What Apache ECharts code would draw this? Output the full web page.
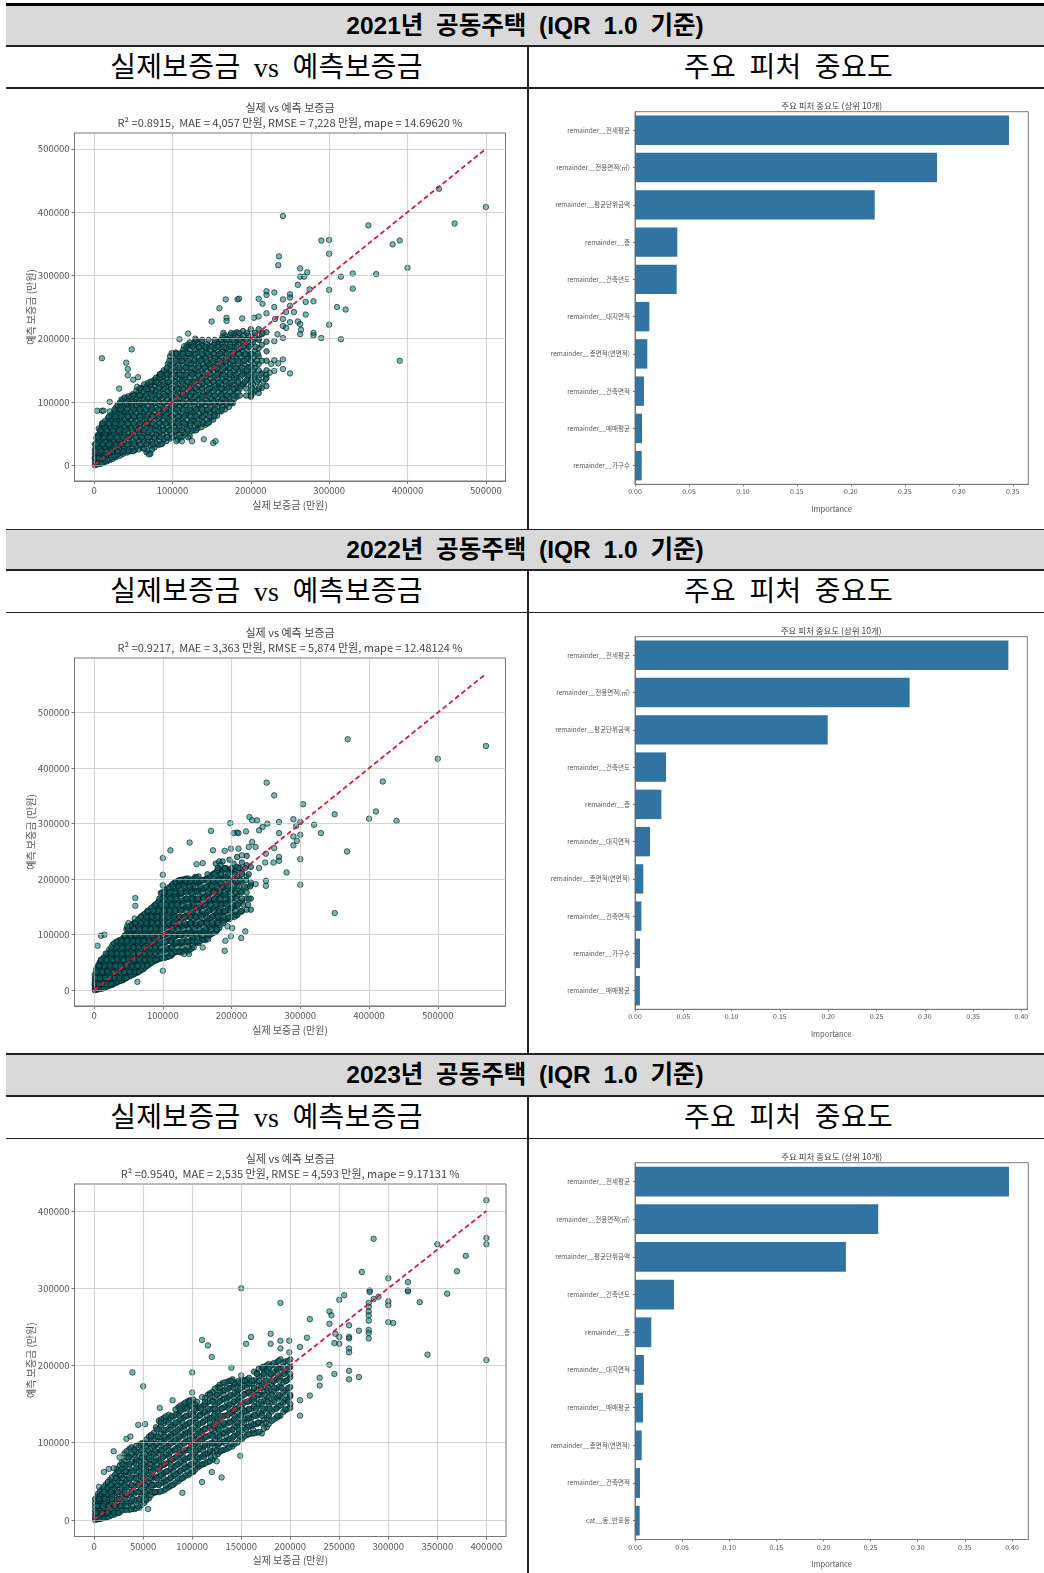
<!DOCTYPE html>
<html>
<head>
<meta charset="utf-8">
<title>공동주택 IQR 1.0</title>
<script src="https://cdn.jsdelivr.net/npm/echarts@6/dist/echarts.min.js"></script>
<style>
html,body{margin:0;padding:0;background:#fff;}
#page{position:relative;width:1044px;height:1573px;overflow:hidden;}
.band,.cellhead,.rule,.vrule,.chart{position:absolute;}
.band{left:6px;right:0;background:#d9d9d9;text-align:center;font:bold 24.5px 'Liberation Sans','Noto Sans CJK KR',sans-serif;color:#000;word-spacing:6px;}
.cellhead{text-align:center;font:28px 'Liberation Serif','Noto Sans CJK KR',serif;color:#000;word-spacing:6px;letter-spacing:0.3px;white-space:nowrap;padding-top:4px;box-sizing:border-box;}
.rule{left:6px;right:0;background:#222;}
.vrule{left:527px;width:2px;background:#222;}
</style>
</head>
<body>
<div id="page"></div>
<script>
var bandTitles = ['2021년 공동주택 (IQR 1.0 기준)', '2022년 공동주택 (IQR 1.0 기준)', '2023년 공동주택 (IQR 1.0 기준)'];
var scatterHead = '실제보증금 vs 예측보증금';
var barHead = '주요 피처 중요도';
var scatterTitle = '실제 vs 예측 보증금';
var barTitle = '주요 피처 중요도 (상위 10개)';
var metrics2021 = 'R² =0.8915,  MAE = 4,057 만원, RMSE = 7,228 만원, mape = 14.69620 %';
var metrics2022 = 'R² =0.9217,  MAE = 3,363 만원, RMSE = 5,874 만원, mape = 12.48124 %';
var metrics2023 = 'R² =0.9540,  MAE = 2,535 만원, RMSE = 4,593 만원, mape = 9.17131 %';

var ticks2021 = [0, 100000, 200000, 300000, 400000, 500000];
var ticks2022 = [0, 100000, 200000, 300000, 400000, 500000];
var xTicks2023 = [0, 50000, 100000, 150000, 200000, 250000, 300000, 350000, 400000];
var yTicks2023 = [0, 100000, 200000, 300000, 400000];
var barTicks2021 = [0, 0.05, 0.10, 0.15, 0.20, 0.25, 0.30, 0.35];
var barTicks2022 = [0, 0.05, 0.10, 0.15, 0.20, 0.25, 0.30, 0.35, 0.40];
var barTicks2023 = [0, 0.05, 0.10, 0.15, 0.20, 0.25, 0.30, 0.35, 0.40];

var features2021 = ['remainder__전세평균', 'remainder__전용면적(㎡)', 'remainder__평균단위금액', 'remainder__층', 'remainder__건축년도', 'remainder__대지면적', 'remainder__총면적(연면적)', 'remainder__건축면적', 'remainder__매매평균', 'remainder__가구수'];
var importance2021 = [0.3465, 0.2798, 0.2221, 0.0392, 0.0386, 0.0133, 0.0114, 0.0083, 0.0065, 0.0062];
var features2022 = ['remainder__전세평균', 'remainder__전용면적(㎡)', 'remainder__평균단위금액', 'remainder__건축년도', 'remainder__층', 'remainder__대지면적', 'remainder__총면적(연면적)', 'remainder__건축면적', 'remainder__가구수', 'remainder__매매평균'];
var importance2022 = [0.3865, 0.2843, 0.1995, 0.0321, 0.0273, 0.0155, 0.0086, 0.0066, 0.0052, 0.0051];
var features2023 = ['remainder__전세평균', 'remainder__전용면적(㎡)', 'remainder__평균단위금액', 'remainder__건축년도', 'remainder__층', 'remainder__대지면적', 'remainder__매매평균', 'remainder__총면적(연면적)', 'remainder__건축면적', 'cat__동_반포동'];
var importance2023 = [0.3968, 0.2581, 0.2238, 0.0414, 0.0173, 0.0095, 0.0085, 0.0071, 0.0053, 0.0050];

/* 아래 산점도 값은 모두 천만원 단위 (1 = 1000 만원) */
var diag2021 = [[0, 0], [500, 500]];
var diag2022 = [[0, 0], [570, 570]];
var diag2023 = [[0, 0], [400, 400]];

/* 밀집 구간: [실제, 예측, 예측, ...] */
var cloud2021 = [
[1,0,5,11,18,25,33],[4,1,8,15,23,31,39,47],[8,2,10,19,28,37,46,55],[12,4,13,23,33,43,53,63],
[16,6,16,26,37,48,58,68],[20,8,18,29,40,51,62,72],[24,10,21,32,44,55,66,76],[28,13,24,35,47,58,70,82,91],
[33,15,27,39,51,63,75,87,98],[37,18,30,42,54,66,79,91,103],[42,20,32,45,58,70,83,95,106],[47,22,34,47,60,73,85,97,108],
[52,24,36,50,62,76,88,100,111],[57,25,39,52,65,78,91,104,116],[62,27,41,55,68,82,95,108,121],[67,20,34,47,61,74,88,101,113,125],
[72,18,31,45,59,73,86,100,113,127],[77,28,42,56,70,84,98,111,124,135],[82,32,46,60,74,88,102,116,130,140],[87,34,49,63,78,92,106,120,134,146],
[92,38,52,66,81,95,110,124,138,150],[97,42,56,71,85,100,114,128,143,158,172],[102,46,60,75,90,104,119,133,148,162,176],[107,40,55,70,84,99,114,128,143,158,172],
[112,44,60,75,90,106,120,135,150,165,178],[117,50,65,80,95,110,125,140,155,170,185],[122,46,62,78,92,108,123,138,153,168,182,194],[127,55,70,85,100,115,130,145,160,175,190],
[132,58,73,89,104,119,134,149,164,179,192],[137,60,76,92,107,122,137,152,167,181,195],[142,64,80,95,110,125,140,155,170,185],[147,68,84,99,114,129,144,159,174,188],
[152,72,87,102,117,132,147,162,177,190],[157,78,92,107,122,137,152,167,182,194],[162,85,99,113,128,143,158,172,186,198],[167,88,103,118,133,148,163,178,192,205],
[172,92,108,123,138,153,168,183,198],[177,98,112,127,142,158,172,187,203],[182,108,122,138,152,168,182,196,210],[187,125,140,155,170,185,200],
[192,130,145,160,175,190,206],[197,140,155,172,188,205],[200,108,115,125,135,145,155,165,175,190,215],[203,114,128,150,170,195],
[210,114,135,150,160,172,185,200,215],[220,125,138,150,165,180,195,210],
[3,3,9,17,26,35,43],[6,4,12,20,29,38,48,58],[10,3,12,22,32,42,52,62,66],[14,7,17,28,38,49,59,70],
[18,9,20,31,43,54,65,75],[22,12,24,35,47,59,70,80],[26,14,26,38,50,61,73,85],[30,17,29,41,53,65,77,88,95],
[35,20,33,45,57,70,82,94,104],[39,23,36,48,60,73,85,97,107],[44,25,38,51,64,76,89,101,109],[49,27,40,53,66,79,92,103,112],
[54,30,43,56,69,82,95,107,118],[59,31,45,58,72,85,98,111,122],[64,26,38,51,64,78,91,104,117,128],[69,23,37,52,66,80,93,107,120,130],
[74,25,37,50,64,78,92,106,119,132],[79,34,48,62,77,91,105,118,131,138],[84,38,53,67,81,95,109,123,137,144],[89,41,56,70,85,99,113,127,141,150],
[94,45,59,74,88,103,117,131,145,160],[99,49,63,78,92,107,121,136,150,165,177],[104,53,67,82,97,112,126,141,155,169,178],[109,48,62,77,92,106,121,136,150,165,176],
[114,52,67,82,98,113,128,142,157,172,183],[119,57,72,87,102,118,132,147,162,177,190],[124,54,70,85,100,115,131,146,161,175,190],[129,62,77,92,107,122,137,152,167,182,196],
[134,65,81,96,111,126,141,156,171,186],[139,68,84,99,114,130,145,160,174,189],[144,72,87,102,118,133,148,162,178,191],[149,76,91,106,122,137,152,167,181],
[154,80,95,110,125,140,155,170,185,193],[159,86,100,115,130,145,160,175,190],[164,92,106,121,136,150,165,179,192,203],[169,96,110,125,140,156,170,185,199],
[174,100,115,130,146,160,175,190,206],[179,105,120,135,150,165,180,194,208],[184,116,130,145,160,176,190,205],[190,128,148,165,180,196,212],
[195,135,150,168,182,198],[205,118,140,160,180,205],[214,122,145,165,190,207]
];
var cloud2022 = [
[1,0,4,9,15,21,28],[4,1,7,13,20,27,34,40],[8,2,9,17,25,33,41,50],[12,3,11,20,29,38,47,56],
[17,5,14,24,33,43,52,62],[22,8,17,27,37,47,57,67,73],[27,10,20,31,41,52,62,72,82],[32,13,24,35,46,57,67,78,87],
[37,16,27,38,49,60,71,81,90],[42,18,30,41,52,63,74,85,93],[47,22,33,44,56,67,78,89,100,110],[52,25,36,48,59,71,82,94,105,115],
[57,28,40,51,63,75,86,98,109,120],[62,31,43,55,67,79,90,102,114,124],[67,35,47,59,71,83,95,107,118,130],[72,38,50,62,75,87,99,111,123,136],
[77,44,56,68,80,93,105,117,129,141],[82,48,60,73,85,98,110,122,134,146],[87,52,64,77,90,102,114,127,139,152],[92,55,68,81,94,106,119,132,144,157],
[97,57,70,84,97,110,123,136,149,163,175],[102,58,72,86,99,113,126,140,153,167,178],[107,60,74,88,102,116,130,144,157,170,183],[112,62,76,91,105,119,133,147,161,175,188],
[117,68,83,97,111,126,140,154,168,182,194],[122,70,85,100,115,130,145,158,173,187,197],[127,68,84,99,114,129,144,159,174,188,199],[132,72,88,103,118,133,148,163,178,192,200],
[137,70,86,102,117,132,148,163,178,192,201],[142,75,90,106,122,137,152,168,183,197],[147,88,102,118,133,148,164,179,194,204],[152,85,100,116,131,147,162,178,193,205],
[157,92,106,122,138,153,168,183,198],[162,90,106,122,137,153,168,184,200],[167,98,113,128,143,158,173,188,203],[172,102,117,132,147,162,178,192,208],
[177,105,120,135,150,165,180,195,212,228],[182,112,127,142,157,172,187,202,218,232],[187,125,140,155,170,185,200,215,232],[192,128,143,158,173,188,204,220],
[197,128,145,162,178,195,212,235],[203,135,150,166,182,198,214,228],[208,135,152,170,188,205,222,240],[215,142,160,178,196,212,230],
[222,145,165,185,205,225,242],[228,145,165,190,222],
[3,1,6,11,18,24,31,37],[6,2,8,15,23,30,37,45],[10,3,10,18,27,35,44,53],[14,4,13,22,31,40,50,59],
[19,7,16,26,35,45,55,65],[24,9,19,29,39,50,60,70],[29,12,22,33,44,54,65,75,84],[34,15,26,37,48,59,69,80,88],
[39,17,29,40,51,62,73,84,91],[44,20,32,43,54,66,77,88,97],[49,24,35,46,58,70,81,92,103,112],[54,27,38,50,61,73,85,96,108,117],
[59,30,42,53,65,77,89,100,112,122],[64,33,45,57,69,81,93,105,116,127],[69,37,49,61,73,85,97,109,121,133],[74,41,53,65,77,90,102,114,126,138],
[79,46,58,70,83,95,107,120,132,143],[84,50,62,75,88,100,112,125,137,149],[89,53,66,79,92,104,117,130,142,154],[94,56,70,83,96,108,121,134,147,160],
[99,58,71,85,98,112,125,138,151,165,176],[104,59,73,87,101,115,128,142,155,169,180],[109,61,75,89,103,118,132,146,159,172,185],[114,65,80,94,108,122,136,150,164,178,191],
[119,69,84,99,113,128,142,156,170,184,195],[124,69,86,102,117,132,147,161,176,190,198],[129,70,86,101,116,131,146,161,176,190,199],[134,71,87,102,118,134,150,165,180,194,201],
[139,73,88,104,120,135,150,165,181,195],[144,82,96,112,127,142,158,173,188,200],[149,86,101,117,132,148,163,178,193,203],[154,88,103,119,135,150,165,181,196],
[159,91,106,120,136,152,167,182,198],[164,94,110,125,140,155,170,186,201],[169,100,115,130,145,160,176,190,205],[174,104,119,134,149,164,180,195,210],
[179,108,124,139,154,168,184,199,216],[184,118,133,148,163,178,193,208,225],[190,126,141,156,171,187,203,218],[195,130,148,165,182,200,216],
[200,132,148,165,182,200,218],[206,136,155,175,195,215],[212,140,158,178,200,220]
];
var cloud2023 = [
[1,0,3,7,12,17,22,27],[4,1,5,10,16,22,28,34],[8,2,7,13,20,27,34,40],[12,3,9,16,23,31,39,46],
[16,5,12,20,28,36,44,52],[21,7,15,23,32,41,50,58],[26,10,18,27,36,45,54,63,70],[31,13,21,30,39,48,58,67,76,86],
[36,13,22,32,42,52,62,72,82,92],[41,14,24,34,44,54,64,74,84,92],[46,16,26,37,47,57,67,77,87,97],[51,22,32,42,52,62,72,82,92,100],
[56,28,38,48,58,68,78,88,98,108],[61,35,45,55,65,75,85,95,105,113],[66,36,46,56,66,76,87,97,107,118,128],[71,38,49,60,71,82,92,103,113,125,132],
[76,42,52,63,74,85,96,107,118,129,136],[81,46,57,68,79,90,101,112,123,134],[86,50,61,72,83,94,105,116,127,138,146],[91,55,66,77,88,99,110,121,132,143,150],
[96,58,69,80,91,102,113,124,135,146,154],[101,62,73,84,95,106,117,128,139,150,156],[106,68,79,90,101,112,123,134,145],[111,72,83,94,105,116,127,138,148],
[116,75,86,97,108,119,130,141,152,162],[121,78,89,100,111,122,133,144,155,166],[126,85,96,107,118,129,140,151,162,172],[131,90,101,112,123,134,145,156,167,177],
[136,92,103,114,125,136,147,158,169,179],[141,95,106,117,128,139,150,161,172,182],[146,100,111,122,133,144,155,166,177],[151,105,116,127,138,149,160,171,180],
[156,110,120,131,142,153,164,175,182],[161,112,122,133,144,155,166,177],[166,113,124,135,146,157,168,179,190],[171,112,125,138,150,162,174,186,197],
[176,120,132,144,156,168,180,192,200],[181,128,140,152,164,176,188,200],[186,132,145,158,170,182,194,204],[190,135,148,160,172,185,197,208],
[195,142,155,168,180,192,205],[200,145,150,160,172,185,198,208],
[3,1,4,9,14,19,25,30],[6,1,6,12,18,25,31,37],[10,3,8,15,22,29,36,43],[14,4,11,18,26,34,42,49],
[18,6,14,22,31,39,47,55],[23,9,17,26,35,44,53,61,66],[28,12,20,29,38,48,57,66,74],[33,13,23,33,43,52,62,71,81,89],
[38,14,24,34,45,55,65,75,85,94],[43,15,26,36,47,57,67,77,88,96],[48,19,30,40,50,60,70,80,90,99],[53,25,35,45,55,65,75,85,95,104],
[58,32,42,52,62,72,82,92,102,110],[63,36,46,56,67,77,88,98,108,120],[68,37,48,58,69,79,90,101,111,122,130],[73,40,51,62,73,84,94,105,116,128,134],
[78,44,55,66,77,88,99,110,121,132],[83,48,59,70,81,92,103,114,125,136,143],[88,53,64,75,86,97,108,119,130,141,148],[93,57,68,79,90,101,112,123,134,145,152],
[98,60,71,82,93,104,115,126,137,148,155],[103,65,76,87,98,109,120,131,142,150],[108,70,81,92,103,114,125,136,146],[113,73,85,96,107,118,129,140,150,158],
[118,76,88,99,110,121,132,143,154,164],[123,82,93,104,115,126,137,148,159,170],[128,88,99,110,121,132,143,154,165,175],[133,91,102,113,124,135,146,157,168,178],
[138,94,105,116,127,138,149,160,171,180],[143,98,109,120,131,142,153,164,175,178],[148,103,114,125,136,147,158,169,178],[153,108,119,130,141,152,163,174,181],
[158,111,121,132,143,154,165,176,184],[163,112,124,136,147,158,170,181,192],[168,114,126,138,150,162,174,186,196],[173,118,130,142,154,166,178,190,198],
[178,124,136,148,160,172,184,196,202],[183,130,143,155,167,179,191,203],[188,134,147,160,172,184,196,206],[193,140,152,165,178,190,203],
[198,144,156,170,182,195,206]
];

/* 밀집 구간 가로줄: [예측, 실제, 실제, ...] */
var rows2021 = [
[11,1,6,12],[22,2,9,16,23,30,37,44,50],[33,3,11,19,27,35,43,51,59,67,75,85],
[44,5,13,21,29,37,45,53,61,69,77,85,93,100,110,120],[55,8,16,24,32,40,48,56,64,72,80,88,96,104,112,120,130],
[66,11,19,27,35,43,51,59,67,75,83,91,99,107,115,123,131,139,145],[77,19,27,35,43,51,59,67,75,83,91,99,107,115,123,131,139,147,153],
[88,26,34,42,50,58,66,74,82,90,98,106,114,122,130,138,146,154,163],[99,33,41,49,57,65,73,81,89,97,105,113,121,129,137,145,153,161,169,175],
[110,50,58,66,74,82,90,98,106,114,122,130,138,146,154,162,170,178,186,194,200],[121,58,66,74,82,90,98,106,114,122,130,138,146,154,162,170,178,186,194,202,210],
[132,72,80,88,96,104,112,120,128,136,144,152,160,168,176,184,192,200,208,216],[143,85,93,101,109,117,125,133,141,149,157,165,173,181,189,197,205,213,220],
[154,93,101,109,117,125,133,141,149,157,165,173,181,189,197,205],[165,96,104,112,120,128,136,144,152,160,168,176,184,192,200,208],
[176,105,113,121,129,137,145,153,161,169,177,185,193,201,209],[187,118,126,134,142,150,158,166,174,182,190,198,206],
[198,130,138,146,154,162,170,178,186,194,202,210],[209,165,175,185,195,205,215]
];
var rows2022 = [
[11,1,7,13,19,25],[22,2,9,16,23,30,37,44,47],[33,4,12,20,28,36,44,52,60,65],[44,7,15,23,31,39,47,55,63,71,77],
[55,10,18,26,34,42,50,58,66,74,82,90],[66,17,25,33,41,49,57,65,73,81,89,97,105,113],
[77,25,33,41,49,57,65,73,81,89,97,105,113,121,129,137,145],[88,40,48,56,64,72,80,88,96,104,112,120,128,136,144,150],
[99,45,53,61,69,77,85,93,101,109,117,125,133,141,149,157,165],[110,50,58,66,74,82,90,98,106,114,122,130,138,146,154,162,170,178],
[121,60,68,76,84,92,100,108,116,124,132,140,148,156,164,172,180,188],[132,68,76,84,92,100,108,116,124,132,140,148,156,164,172,180,188,196,204],
[143,78,86,94,102,110,118,126,134,142,150,158,166,174,182,190,198,206,214],[154,89,97,105,113,121,129,137,145,153,161,169,177,185,193,201,209,217,224],
[165,95,103,111,119,127,135,143,151,159,167,175,183,191,199,207,215,225],[176,102,110,118,126,134,142,150,158,166,174,182,190,198,206,214,222],
[187,115,123,131,139,147,155,163,171,179,187,195,203,211,219,227],[198,125,133,141,149,157,165,173,181,189,197,205,213,221],
[209,165,175,185,195,205,215,225],[220,180,190,200,210,220]
];
var rows2023 = [
[9,2,8,14,20,25],[18,3,9,15,21,27,33,39,45],[27,5,11,18,25,32,39,46,53],[36,10,17,24,31,38,45,52,59,62],
[45,17,24,31,38,45,52,59,66,73,80],[54,22,29,36,43,50,57,64,71,78,85,90],[63,25,32,39,46,53,60,67,74,81,88,95,101],
[72,29,36,43,50,57,64,71,78,85,92,99,106,110],[81,35,42,49,56,63,70,77,84,91,98,105,112,119],
[90,41,48,55,62,69,76,83,90,97,104,111,118,125,130],[99,50,57,64,71,78,85,92,99,106,113,120,127,134,140],
[108,58,65,72,79,86,93,100,107,114,121,128,135,142,149],[117,64,71,78,85,92,99,106,113,120,127,134,141,148,155,162],
[126,68,76,83,90,97,104,111,118,125,132,139,146,153,160,167,175],[135,79,87,94,101,108,115,122,129,136,143,150,157,164,171,178,187],
[144,88,95,102,109,116,123,130,137,144,151,158,165,172,179,186,195],[153,97,105,113,121,128,135,142,149,156,163,170,177,184,191,198],
[162,118,125,132,139,146,153,160,167,174,181,188,195,200],[171,128,135,142,149,156,163,170,177,184,191,198],
[180,140,147,154,161,168,175,182,189,196],[189,166,173,180,187,194,200],[198,172,179,186,193,199]
];

/* 밀집 구간 밖 개별 점: [실제, 예측] */
var outliers2021 = [
[500,408],[460,382],[440,437],[350,379],[381,349],[390,355],[400,312],[360,302],[330,303],[330,279],[315,298],[315,199],[321,246],[310,250],
[300,356],[290,355],[300,334],[300,277],[300,222],[290,201],[241,394],[236,330],[235,316],[263,311],[263,298],[268,298],[272,305],[260,285],
[275,278],[270,258],[280,259],[270,238],[280,209],[280,205],[263,223],[264,214],[263,207],[260,227],[390,165],[250,145],[241,167],[241,152],
[230,166],[226,160],[235,161],[230,149],[224,146],[219,136],[211,124],[168,262],[183,262],[185,263],[160,248],[150,227],[169,233],[169,228],
[189,232],[204,233],[210,235],[210,263],[215,255],[220,269],[220,275],[230,273],[230,250],[220,240],[241,262],[250,270],[250,265],[250,252],
[255,242],[245,242],[241,231],[231,231],[241,220],[250,226],[245,217],[241,201],[234,207],[230,196],[120,208],[109,199],[129,200],[115,188],
[48,183],[41,162],[43,152],[43,142],[56,139],[50,135],[55,124],[10,169],[32,121],[4,86],[10,86],[12,86],[20,100],[20,85],
[105,38],[112,38],[125,38],[140,41],[152,35],[155,38],[70,17]
];
var outliers2022 = [
[570,440],[500,417],[369,452],[420,376],[400,309],[410,322],[440,305],[368,250],[350,317],[350,139],[330,283],[320,298],[304,335],[300,303],
[290,308],[294,296],[300,280],[290,277],[295,269],[290,261],[300,236],[300,190],[280,212],[269,303],[269,283],[269,240],[269,233],[262,351],
[251,374],[252,300],[237,306],[226,312],[230,306],[245,294],[240,288],[221,286],[208,284],[203,283],[210,283],[198,301],[170,287],[139,266],
[111,252],[100,238],[100,208],[100,189],[100,35],[63,15],[59,129],[60,166],[60,152],[50,121],[48,115],[15,100],[10,98],[5,80],
[149,227],[158,229],[173,252],[190,251],[199,255],[210,255],[215,243],[225,258],[235,258],[230,267],[250,246],[262,256],[261,230],[249,230],
[240,220],[228,194],[250,197],[250,188],[235,191],[220,106],[214,94],[199,97],[201,112],[194,115],[191,89],[190,71],[158,77],[138,65],
[131,65],[166,92],[179,109]
];
var outliers2023 = [
[400,414],[400,365],[400,357],[400,207],[379,342],[370,322],[360,293],[350,357],[340,214],[332,282],[320,308],[320,297],[320,296],[300,313],
[300,283],[300,278],[300,256],[305,255],[285,364],[273,321],[281,297],[281,295],[290,289],[285,286],[280,281],[280,276],[280,270],[280,265],
[280,258],[280,246],[280,242],[280,235],[270,245],[270,185],[260,252],[260,237],[260,235],[260,222],[260,217],[260,193],[260,182],[255,291],
[250,285],[240,270],[242,265],[240,254],[246,241],[250,237],[250,228],[245,229],[245,189],[240,201],[230,184],[230,174],[220,260],[220,161],
[217,236],[210,224],[210,155],[210,135],[190,281],[180,241],[180,228],[190,232],[190,222],[199,232],[199,217],[160,237],[155,228],[150,300],
[110,233],[116,226],[120,211],[140,197],[150,187],[100,191],[100,165],[110,159],[50,173],[39,191],[67,145],[80,155],[45,123],[52,124],
[33,105],[37,108],[20,89],[26,81],[149,83],[130,55],[125,76],[120,62],[110,49],[90,35],[55,14],[5,43],[10,62],[15,66],[20,67]
];

var textFont = "'Noto Sans CJK KR','Noto Sans',sans-serif";
var textColor = '#555';
var spineColor = '#777';
var gridColor = 'rgba(190,190,190,0.65)';

function addEl(cls, css, text){
	var el = document.createElement('div');
	el.className = cls;
	el.style.cssText = css;
	if(text) el.textContent = text;
	document.getElementById('page').appendChild(el);
	return el;
}

/* 표 틀 */
function drawTable(bandTop, bandBottom, headBottom, rowEnd, rowIndex){
	addEl('band', 'top:'+bandTop+'px;height:'+(bandBottom-bandTop)+'px;line-height:'+(bandBottom-bandTop)+'px;', bandTitles[rowIndex]);
	addEl('cellhead', 'left:6px;width:521px;top:'+bandBottom+'px;height:'+(headBottom-bandBottom)+'px;line-height:'+(headBottom-bandBottom-4)+'px;', scatterHead);
	addEl('cellhead', 'left:531px;width:515px;top:'+bandBottom+'px;height:'+(headBottom-bandBottom)+'px;line-height:'+(headBottom-bandBottom-4)+'px;', barHead);
	addEl('rule', 'top:'+bandBottom+'px;height:1.5px;');
	addEl('rule', 'top:'+headBottom+'px;height:1.5px;');
	addEl('vrule', 'top:'+bandBottom+'px;height:'+(rowEnd-bandBottom)+'px;');
}

function flatten(cloud, rows){
	var out = [];
	cloud.forEach(function(col){
		for(var i=1;i<col.length;i++) out.push([col[0]*1000, col[i]*1000]);
	});
	rows.forEach(function(row){
		for(var i=1;i<row.length;i++) out.push([row[i]*1000, row[0]*1000]);
	});
	return out;
}

function scaleUp(list){
	return list.map(function(p){return [p[0]*1000,p[1]*1000];});
}

function valueAxis(min, max, ticks, name, gap){
	return {
		type:'value', min:min, max:max, z:3,
		name:name, nameLocation:'middle', nameGap:gap, nameMoveOverlap:false,
		nameTextStyle:{color:textColor, fontSize:10, fontFamily:textFont},
		axisLine:{show:true, onZero:false, lineStyle:{color:spineColor, width:1}},
		axisTick:{show:true, length:3, customValues:ticks, lineStyle:{color:spineColor}},
		axisLabel:{customValues:ticks, color:textColor, fontSize:9.5, margin:5, fontFamily:textFont, formatter:function(v){return String(v);}},
		splitLine:{show:true, lineStyle:{color:gridColor, width:1.2}}
	};
}

/* 산점도 */
function initScatterChart(domBox, plot, title, metrics, range, xTicks, yTicks, dense, outliers, diag){
	var el = addEl('chart', 'left:'+domBox[0]+'px;top:'+domBox[1]+'px;width:'+domBox[2]+'px;height:'+domBox[3]+'px;');
	var mychart = echarts.init(el);
	mychart.setOption({
		animation:false,
		title:{
			text:title+'\n'+metrics, left:plot[0]+plot[2]/2-domBox[0], textAlign:'center', top:plot[1]-domBox[1]-33, padding:0,
			textStyle:{color:'#444', fontSize:11, fontWeight:'normal', lineHeight:15.5, fontFamily:textFont}
		},
		grid:{show:true, borderColor:spineColor, borderWidth:1, left:plot[0]-domBox[0], top:plot[1]-domBox[1], width:plot[2], height:plot[3]},
		xAxis:valueAxis(range[0], range[1], xTicks, '실제 보증금 (만원)', 19),
		yAxis:valueAxis(range[2], range[3], yTicks, '예측 보증금 (만원)', 38),
		series:[{
			type:'scatter', data:dense, symbolSize:5.5, z:2,
			itemStyle:{color:'rgba(10,100,100,0.85)', borderColor:'rgba(0,25,28,0.85)', borderWidth:1}
		},{
			type:'scatter', data:scaleUp(outliers), symbolSize:5.5, z:2,
			itemStyle:{color:'rgba(0,115,110,0.65)', borderColor:'rgba(0,30,30,0.8)', borderWidth:1}
		},{
			type:'line', data:scaleUp(diag), showSymbol:false, z:5,
			lineStyle:{color:'#e0143c', width:1.8, type:[5,3]}
		}]
	});
}

/* 피처 중요도 막대 */
function initBarChart(domBox, plot, features, values, xMax, ticks){
	var el = addEl('chart', 'left:'+domBox[0]+'px;top:'+domBox[1]+'px;width:'+domBox[2]+'px;height:'+domBox[3]+'px;');
	var mychart = echarts.init(el);
	mychart.setOption({
		animation:false,
		title:{
			text:barTitle, left:plot[0]+plot[2]/2-domBox[0], textAlign:'center', top:plot[1]-domBox[1]-10, padding:0,
			textStyle:{color:'#444', fontSize:8.5, fontWeight:'normal', fontFamily:textFont}
		},
		grid:{show:true, borderColor:spineColor, borderWidth:1, left:plot[0]-domBox[0], top:plot[1]-domBox[1], width:plot[2], height:plot[3]},
		xAxis:{
			type:'value', min:0, max:xMax,
			name:'Importance', nameLocation:'middle', nameGap:21, nameMoveOverlap:false,
			nameTextStyle:{color:textColor, fontSize:7.5, fontFamily:textFont},
			axisLine:{show:true, lineStyle:{color:spineColor}},
			axisTick:{show:true, length:2, customValues:ticks, lineStyle:{color:spineColor}},
			axisLabel:{customValues:ticks, color:textColor, fontSize:7, margin:4, fontFamily:textFont, formatter:function(v){return v.toFixed(2);}},
			splitLine:{show:false}
		},
		yAxis:{
			type:'category', inverse:true, data:features,
			axisLine:{show:true, lineStyle:{color:spineColor}},
			axisTick:{show:true, length:2, alignWithLabel:true, lineStyle:{color:spineColor}},
			axisLabel:{color:textColor, fontSize:6.5, margin:5, fontFamily:textFont, interval:0},
			splitLine:{show:false}
		},
		series:[{type:'bar', data:values, barWidth:'79%', itemStyle:{color:'#3274a1'}}]
	});
}

addEl('rule', 'top:2.5px;height:3px;background:#000;');
drawTable(5.5, 45, 87, 528.5, 0);
addEl('rule', 'top:528.5px;height:1.5px;');
drawTable(530, 569, 611.5, 1053, 1);
addEl('rule', 'top:1053px;height:1.5px;');
drawTable(1054.5, 1095, 1137.5, 1573, 2);

initScatterChart([6,89,520,439],[74.5,133,431,348], scatterTitle, metrics2021, [-25000,525000,-25000,525000], ticks2021, ticks2021, flatten(cloud2021,rows2021), outliers2021, diag2021);
initScatterChart([6,613,520,439],[74.5,658,431,348], scatterTitle, metrics2022, [-28500,598500,-28500,598500], ticks2022, ticks2022, flatten(cloud2022,rows2022), outliers2022, diag2022);
initScatterChart([6,1139,520,434],[74.5,1184,431.5,352.5], scatterTitle, metrics2023, [-20000,420000,-21500,435000], xTicks2023, yTicks2023, flatten(cloud2023,rows2023), outliers2023, diag2023);

initBarChart([529,89,515,439],[635,111.7,393.3,372.6], features2021, importance2021, 0.3644, barTicks2021);
initBarChart([529,613,515,439],[635,636.7,392.3,372.6], features2022, importance2022, 0.4061, barTicks2022);
initBarChart([529,1139,515,434],[635,1162.7,393.3,377], features2023, importance2023, 0.4173, barTicks2023);
</script>
</body>
</html>
